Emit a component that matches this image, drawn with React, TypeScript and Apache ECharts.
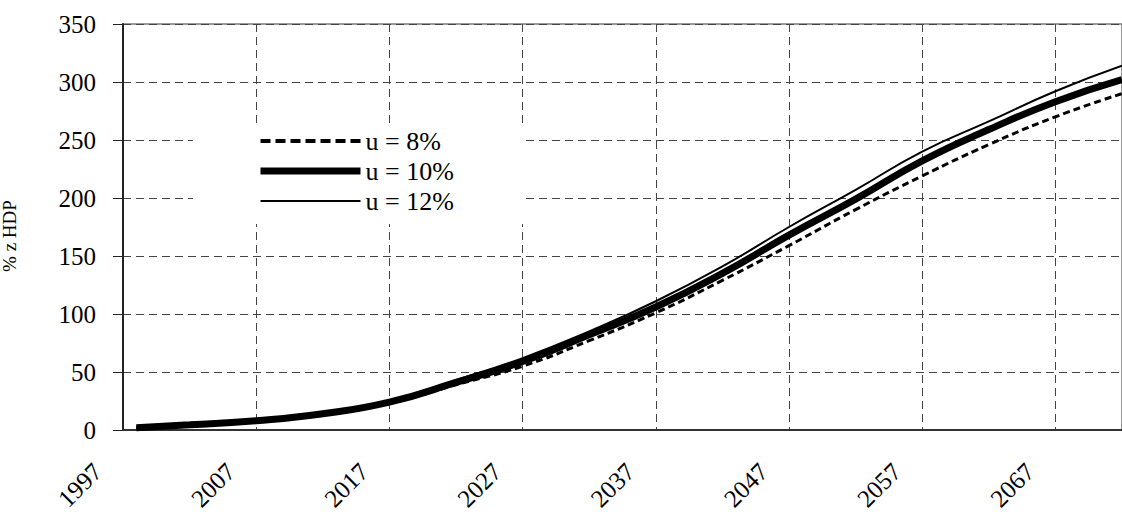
import React, { useEffect, useRef } from "react";
import * as echarts from "echarts";

const years = [1998, 2002, 2007, 2012, 2017, 2022, 2027, 2032, 2037, 2042, 2047, 2052, 2057, 2062, 2067, 2072];
const u8 = [2, 4, 7.5, 13, 23, 39, 55, 77, 101, 129, 159, 190, 219, 246, 270, 290];
const u10 = [2, 4.5, 8, 14, 24, 41, 59, 82, 106, 135, 168, 199, 232, 259, 283, 302];
const u12 = [2, 4.5, 8, 14.5, 25, 43, 62, 85, 111, 141, 175, 207, 240, 266, 292, 314];
const seriesNames = ["u = 8%", "u = 10%", "u = 12%"];
const yAxisName = "% z HDP";

const FONT = "'Liberation Serif', 'Times New Roman', serif";

const pairs = (vals: number[]) => years.map((y, i) => [y, vals[i]]);

export default function App() {
  const ref = useRef<HTMLDivElement>(null);
  useEffect(() => {
    if (!ref.current) return;
    const chart = echarts.init(ref.current, null, { renderer: "svg" });
    chart.setOption({
      animation: false,
      backgroundColor: "#fff",
      grid: {
        left: 123,
        right: 0,
        top: 24,
        bottom: 82,
        show: true,
        borderColor: "#999",
        borderWidth: 2,
        outerBoundsMode: "none",
      },
      legend: {
        orient: "vertical",
        left: 193,
        top: 124,
        backgroundColor: "#fff",
        padding: [4, 70, 10, 64],
        itemWidth: 100,
        itemHeight: 14,
        itemGap: 4,
        selectedMode: false,
        textStyle: { fontSize: 26, fontFamily: FONT, color: "#000" },
        itemStyle: { opacity: 0 },
        data: [
          { name: seriesNames[0], lineStyle: { width: 4, type: [10, 5], color: "#000" } },
          { name: seriesNames[1], lineStyle: { width: 7, color: "#000" } },
          { name: seriesNames[2], lineStyle: { width: 2, color: "#000" } },
        ],
      },
      xAxis: {
        type: "value",
        min: 1997,
        max: 2072,
        interval: 10,
        axisLine: { show: true, onZero: false, lineStyle: { color: "#333", width: 2 } },
        axisTick: { show: false },
        splitLine: { show: true, lineStyle: { color: "#444", width: 1, type: [8, 5] } },
        axisLabel: {
          rotate: 45,
          margin: 12,
          padding: [0, 36, 0, 0],
          fontSize: 25,
          fontFamily: FONT,
          color: "#000",
          showMaxLabel: false,
          formatter: (v: number) => String(v),
        },
      },
      yAxis: {
        type: "value",
        min: 0,
        max: 350,
        interval: 50,
        name: yAxisName,
        nameLocation: "middle",
        nameGap: 104,
        nameTextStyle: { fontSize: 19, fontFamily: FONT, color: "#000", padding: [0, 18, 0, 0] },
        axisLine: { show: true, lineStyle: { color: "#222", width: 2 } },
        axisTick: { show: true, length: 10, lineStyle: { color: "#222", width: 1 } },
        splitLine: { show: true, lineStyle: { color: "#444", width: 1, type: [8, 5] } },
        axisLabel: { margin: 27, fontSize: 25, fontFamily: FONT, color: "#000" },
      },
      series: [
        {
          name: seriesNames[1],
          type: "line",
          data: pairs(u10),
          symbol: "none",
          smooth: true,
          color: "#000",
          lineStyle: { color: "#000", width: 7 },
          z: 2,
        },
        {
          name: seriesNames[2],
          type: "line",
          data: pairs(u12),
          symbol: "none",
          smooth: true,
          color: "#000",
          lineStyle: { color: "#000", width: 2 },
          z: 3,
        },
        {
          name: seriesNames[0],
          type: "line",
          data: pairs(u8),
          symbol: "none",
          smooth: true,
          color: "#000",
          lineStyle: { color: "#000", width: 3, type: [7, 4] },
          z: 4,
        },
      ],
    });
    return () => chart.dispose();
  }, []);
  return (
    <div
      ref={ref}
      style={{ position: "fixed", left: 0, top: 0, width: 1122, height: 512, background: "#fff" }}
    />
  );
}
